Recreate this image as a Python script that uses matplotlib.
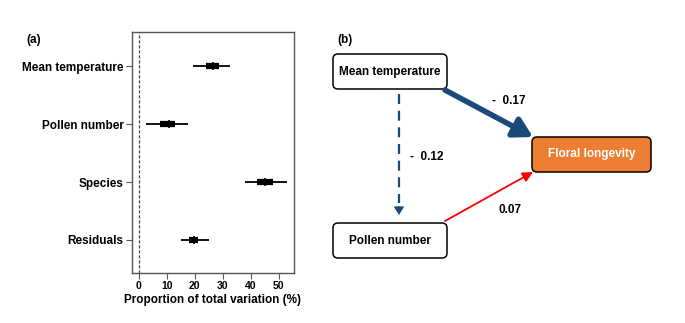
import matplotlib
matplotlib.use("Agg")
import matplotlib.pyplot as plt
from matplotlib.patches import FancyBboxPatch, FancyArrowPatch

plt.rcParams['font.family'] = ['Liberation Sans', 'DejaVu Sans']
plt.rcParams['font.weight'] = 'bold'

# ---- data (panel a) ----
terms = ["Mean temperature", "Pollen number", "Species", "Residuals"]
medians = [26.5, 10.7, 45.2, 19.6]
inner_lo = [23.9, 7.7, 42.4, 17.9]
inner_hi = [28.7, 13.0, 48.1, 21.2]
outer_lo = [19.4, 2.4, 38.0, 15.2]
outer_hi = [32.5, 17.7, 53.1, 25.0]
xticks = [0, 10, 20, 30, 40, 50]

# ---- data (panel b) ----
nodes = ["Mean temperature", "Pollen number", "Floral longevity"]
path_coefs = {"temp_long": "-  0.17", "temp_pollen": "-  0.12", "pollen_long": "0.07"}

W, H = 685, 323
FS = 8.5
fig = plt.figure(figsize=(W / 100, H / 100), dpi=100)

# Panel a
ax = fig.add_axes([132 / W, 1 - 273 / H, (294 - 132) / W, (273 - 32) / H])
ypos = [len(terms) - i for i in range(len(terms))]
ax.hlines(ypos, outer_lo, outer_hi, color='black', lw=1.3)
ax.hlines(ypos, inner_lo, inner_hi, color='black', lw=4.5)
ax.vlines(medians, [y - 0.07 for y in ypos], [y + 0.07 for y in ypos], color='black', lw=1.2)
ax.axvline(0, color='#444444', ls=(0, (2.5, 1.5)), lw=0.9)
ax.set_xlim(-2.5, 55.5)
ax.set_ylim(0.43, 4.59)
ax.set_yticks(ypos)
ax.set_yticklabels(terms, fontsize=FS, fontweight='bold')
ax.set_xticks(xticks)
ax.set_xticklabels([str(t) for t in xticks], fontsize=7.5, fontweight='bold')
ax.set_xlabel("Proportion of total variation (%)", fontsize=FS, fontweight='bold', labelpad=2)
ax.tick_params(axis='both', direction='out', length=4, width=0.8, color='#555555', pad=2)
for s in ax.spines.values():
    s.set_color('#555555')
    s.set_linewidth(1.0)
fig.text(26 / W, 1 - 40 / H, "(a)", fontsize=FS, fontweight='bold', va='center', ha='left')

# Panel b (pixel coordinate overlay)
bx = fig.add_axes([0, 0, 1, 1])
bx.set_xlim(0, W)
bx.set_ylim(H, 0)
bx.axis('off')
bx.patch.set_alpha(0)

def box(x0, y0, x1, y1, text, fc='white', tc='black'):
    p = FancyBboxPatch((x0, y0), x1 - x0, y1 - y0,
                       boxstyle="round,pad=0,rounding_size=5",
                       fc=fc, ec='black', lw=1.1)
    bx.add_patch(p)
    bx.text((x0 + x1) / 2, (y0 + y1) / 2, text, ha='center', va='center',
            fontsize=FS, fontweight='bold', color=tc)

box(333, 54, 447, 89, nodes[0])
box(333, 223, 447, 258, nodes[1])
box(532, 137, 651, 172, nodes[2], fc='#ED7D31', tc='white')

blue = '#1B4A7A'
a1 = FancyArrowPatch((445, 90), (533, 137), arrowstyle='-|>,head_length=7,head_width=4',
                     mutation_scale=1.6, color=blue, lw=4, shrinkA=0, shrinkB=0)
bx.add_patch(a1)
a2 = FancyArrowPatch((445, 221), (533, 172), arrowstyle='-|>,head_length=5,head_width=2.5',
                     mutation_scale=1.2, color='red', lw=1.3, shrinkA=0, shrinkB=0)
bx.add_patch(a2)
bx.plot([399, 399], [94, 203], color=blue, lw=1.6, ls=(0, (4.5, 3.0)))
a3 = FancyArrowPatch((399, 207), (399, 215), arrowstyle='-|>,head_length=4,head_width=2.5',
                     mutation_scale=1.2, color=blue, lw=1, shrinkA=0, shrinkB=0)
bx.add_patch(a3)

bx.text(509, 101, path_coefs["temp_long"], ha='center', va='center', fontsize=FS, fontweight='bold')
bx.text(427, 157, path_coefs["temp_pollen"], ha='center', va='center', fontsize=FS, fontweight='bold')
bx.text(510, 210, path_coefs["pollen_long"], ha='center', va='center', fontsize=FS, fontweight='bold')
fig.text(337 / W, 1 - 40 / H, "(b)", fontsize=FS, fontweight='bold', va='center', ha='left')

fig.savefig("out.png", dpi=100)
